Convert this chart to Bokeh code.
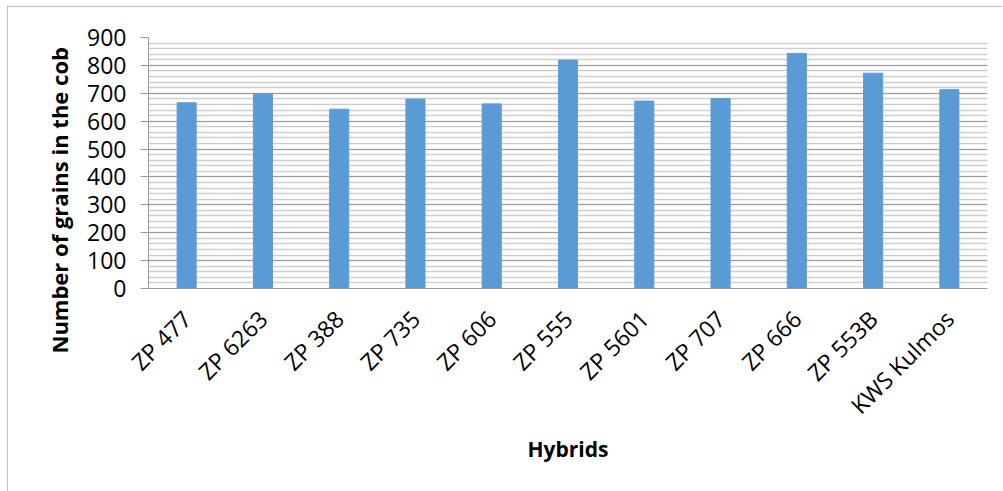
from math import pi
from bokeh.plotting import figure
from bokeh.models import SingleIntervalTicker, Range1d, FactorRange, ColumnDataSource, Title
from bokeh.embed import file_html
from bokeh.resources import INLINE

hybrids = ["ZP 477", "ZP 6263", "ZP 388", "ZP 735", "ZP 606", "ZP 555",
           "ZP 5601", "ZP 707", "ZP 666", "ZP 553B", "KWS Kulmos"]
grains = [666, 698, 643, 679, 662, 819, 672, 681, 843, 772, 713]
y_ticks = [0, 100, 200, 300, 400, 500, 600, 700, 800, 900]

src = ColumnDataSource(dict(h=hybrids, g=grains))

p = figure(width=995, height=485, x_range=FactorRange(*hybrids, range_padding=0),
           y_range=Range1d(0, 900), output_backend="svg", toolbar_location=None,
           min_border_left=140, min_border_right=16, min_border_top=30, min_border_bottom=204)
p.styles = {"border-left": "1px solid #bfbfbf", "border-top": "1px solid #bfbfbf",
            "margin-left": "7px", "margin-top": "6px"}

p.vbar(x="h", top="g", width=0.25, source=src, fill_color="#5B9BD5", line_color="#5B9BD5")

p.outline_line_color = None
p.xgrid.grid_line_color = None
p.ygrid.ticker = SingleIntervalTicker(interval=100, num_minor_ticks=5)
p.ygrid.grid_line_color = "#9a9a9a"
p.ygrid.grid_line_width = 1
p.ygrid.minor_grid_line_color = "#cfcfcf"
p.ygrid.minor_grid_line_width = 1.5

p.yaxis.ticker = y_ticks
p.yaxis.major_tick_out = 8
p.yaxis.major_tick_in = 0
p.yaxis.minor_tick_out = 0
p.yaxis.minor_tick_in = 0
p.yaxis.axis_line_color = "#9a9a9a"
p.yaxis.major_tick_line_color = "#9a9a9a"
p.yaxis.major_label_text_font = "Open Sans"
p.yaxis.major_label_text_font_size = "23px"
p.yaxis.major_label_text_color = "black"
p.yaxis.major_label_standoff = 14

ylab = Title(text="Number of grains in the cob", align="left", offset=-65,
             text_font="Open Sans", text_font_style="bold", text_font_size="22px",
             text_color="black", standoff=22)
p.add_layout(ylab, "left")

p.xaxis.major_tick_out = 0
p.xaxis.major_tick_in = 0
p.xaxis.axis_line_color = "#9a9a9a"
p.xaxis.major_label_orientation = pi / 4
p.xaxis.major_label_text_font = "Open Sans"
p.xaxis.major_label_text_font_size = "23px"
p.xaxis.major_label_text_color = "black"
p.xaxis.major_label_standoff = 26
p.xaxis.axis_label = "Hybrids"
p.xaxis.axis_label_text_font = "Open Sans"
p.xaxis.axis_label_text_font_style = "bold"
p.xaxis.axis_label_text_font_size = "21px"
p.xaxis.axis_label_text_color = "black"
p.xaxis.axis_label_standoff = 0

open("out.html", "w").write(file_html(p, INLINE))
